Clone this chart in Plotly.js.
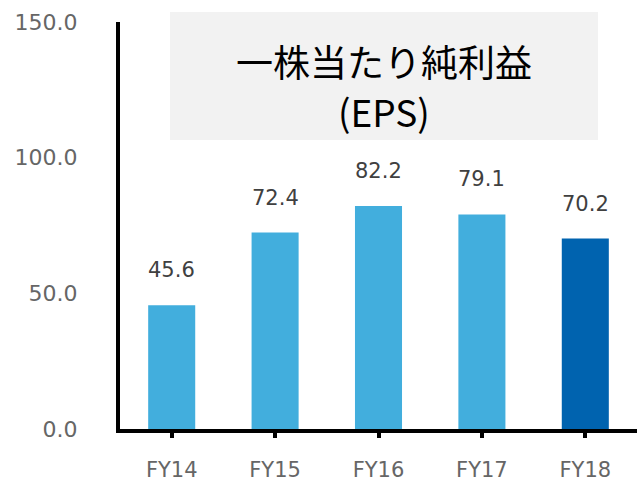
<!DOCTYPE html>
<html>
<head>
<meta charset="utf-8">
<script src="https://cdn.plot.ly/plotly-3.0.1.min.js"></script>
<style>html,body{margin:0;padding:0;background:#fff;}</style>
</head>
<body>
<div id="chart" style="width:638px;height:483px;"></div>
<script>
const categories = ["FY14", "FY15", "FY16", "FY17", "FY18"];
const eps = [45.6, 72.4, 82.2, 79.1, 70.2];
const barColors = ["#42AEDD", "#42AEDD", "#42AEDD", "#42AEDD", "#0063AF"];
const yTicks = [0, 50, 100, 150];
const yTickLabels = ["0.0", "50.0", "100.0", "150.0"];
const titleLines = ["一株当たり純利益", "(EPS)"];

const labelFont = "DejaVu Sans, Liberation Sans, sans-serif";

const trace = {
  type: "bar",
  x: categories,
  y: eps,
  marker: { color: barColors },
  width: 0.455,
  hoverinfo: "none"
};

const annotations = categories.map((c, i) => ({
  x: c, y: eps[i], xref: "x", yref: "y",
  text: eps[i].toFixed(1),
  showarrow: false,
  yanchor: "bottom",
  yshift: 21,
  font: { family: labelFont, size: 21, color: "#404040" }
}));

const titleY = [0.904, 0.781];
titleLines.forEach((t, i) => annotations.push({
  x: 0.5106, y: titleY[i], xref: "paper", yref: "paper",
  xanchor: "center", yanchor: "middle",
  text: t,
  showarrow: false,
  font: { family: "Noto Sans CJK JP, sans-serif", size: 37, color: "#000000" }
}));

const layout = {
  width: 638, height: 483,
  margin: { l: 120, r: 1, t: 22, b: 54 },
  paper_bgcolor: "#ffffff",
  plot_bgcolor: "#ffffff",
  showlegend: false,
  shapes: [{
    type: "rect", xref: "paper", yref: "paper",
    x0: 0.0967, x1: 0.9246, y0: 0.710, y1: 1.0246,
    fillcolor: "#F2F2F2", line: { width: 0 }, layer: "below"
  }],
  annotations: annotations,
  xaxis: {
    type: "category",
    showline: true, linecolor: "#000000", linewidth: 4,
    ticks: "outside", ticklen: 5, tickwidth: 4, tickcolor: "#000000",
    showgrid: false, zeroline: false,
    tickfont: { family: labelFont, size: 21, color: "#666666" },
    ticklabelstandoff: 14
  },
  yaxis: {
    range: [0, 150],
    tickvals: yTicks, ticktext: yTickLabels,
    showline: true, linecolor: "#000000", linewidth: 4,
    ticks: "", showgrid: false, zeroline: false,
    tickfont: { family: labelFont, size: 22, color: "#666666" },
    ticklabelstandoff: 34
  },
  bargap: 0.545
};

Plotly.newPlot("chart", [trace], layout, { displayModeBar: false, staticPlot: true });
</script>
</body>
</html>
